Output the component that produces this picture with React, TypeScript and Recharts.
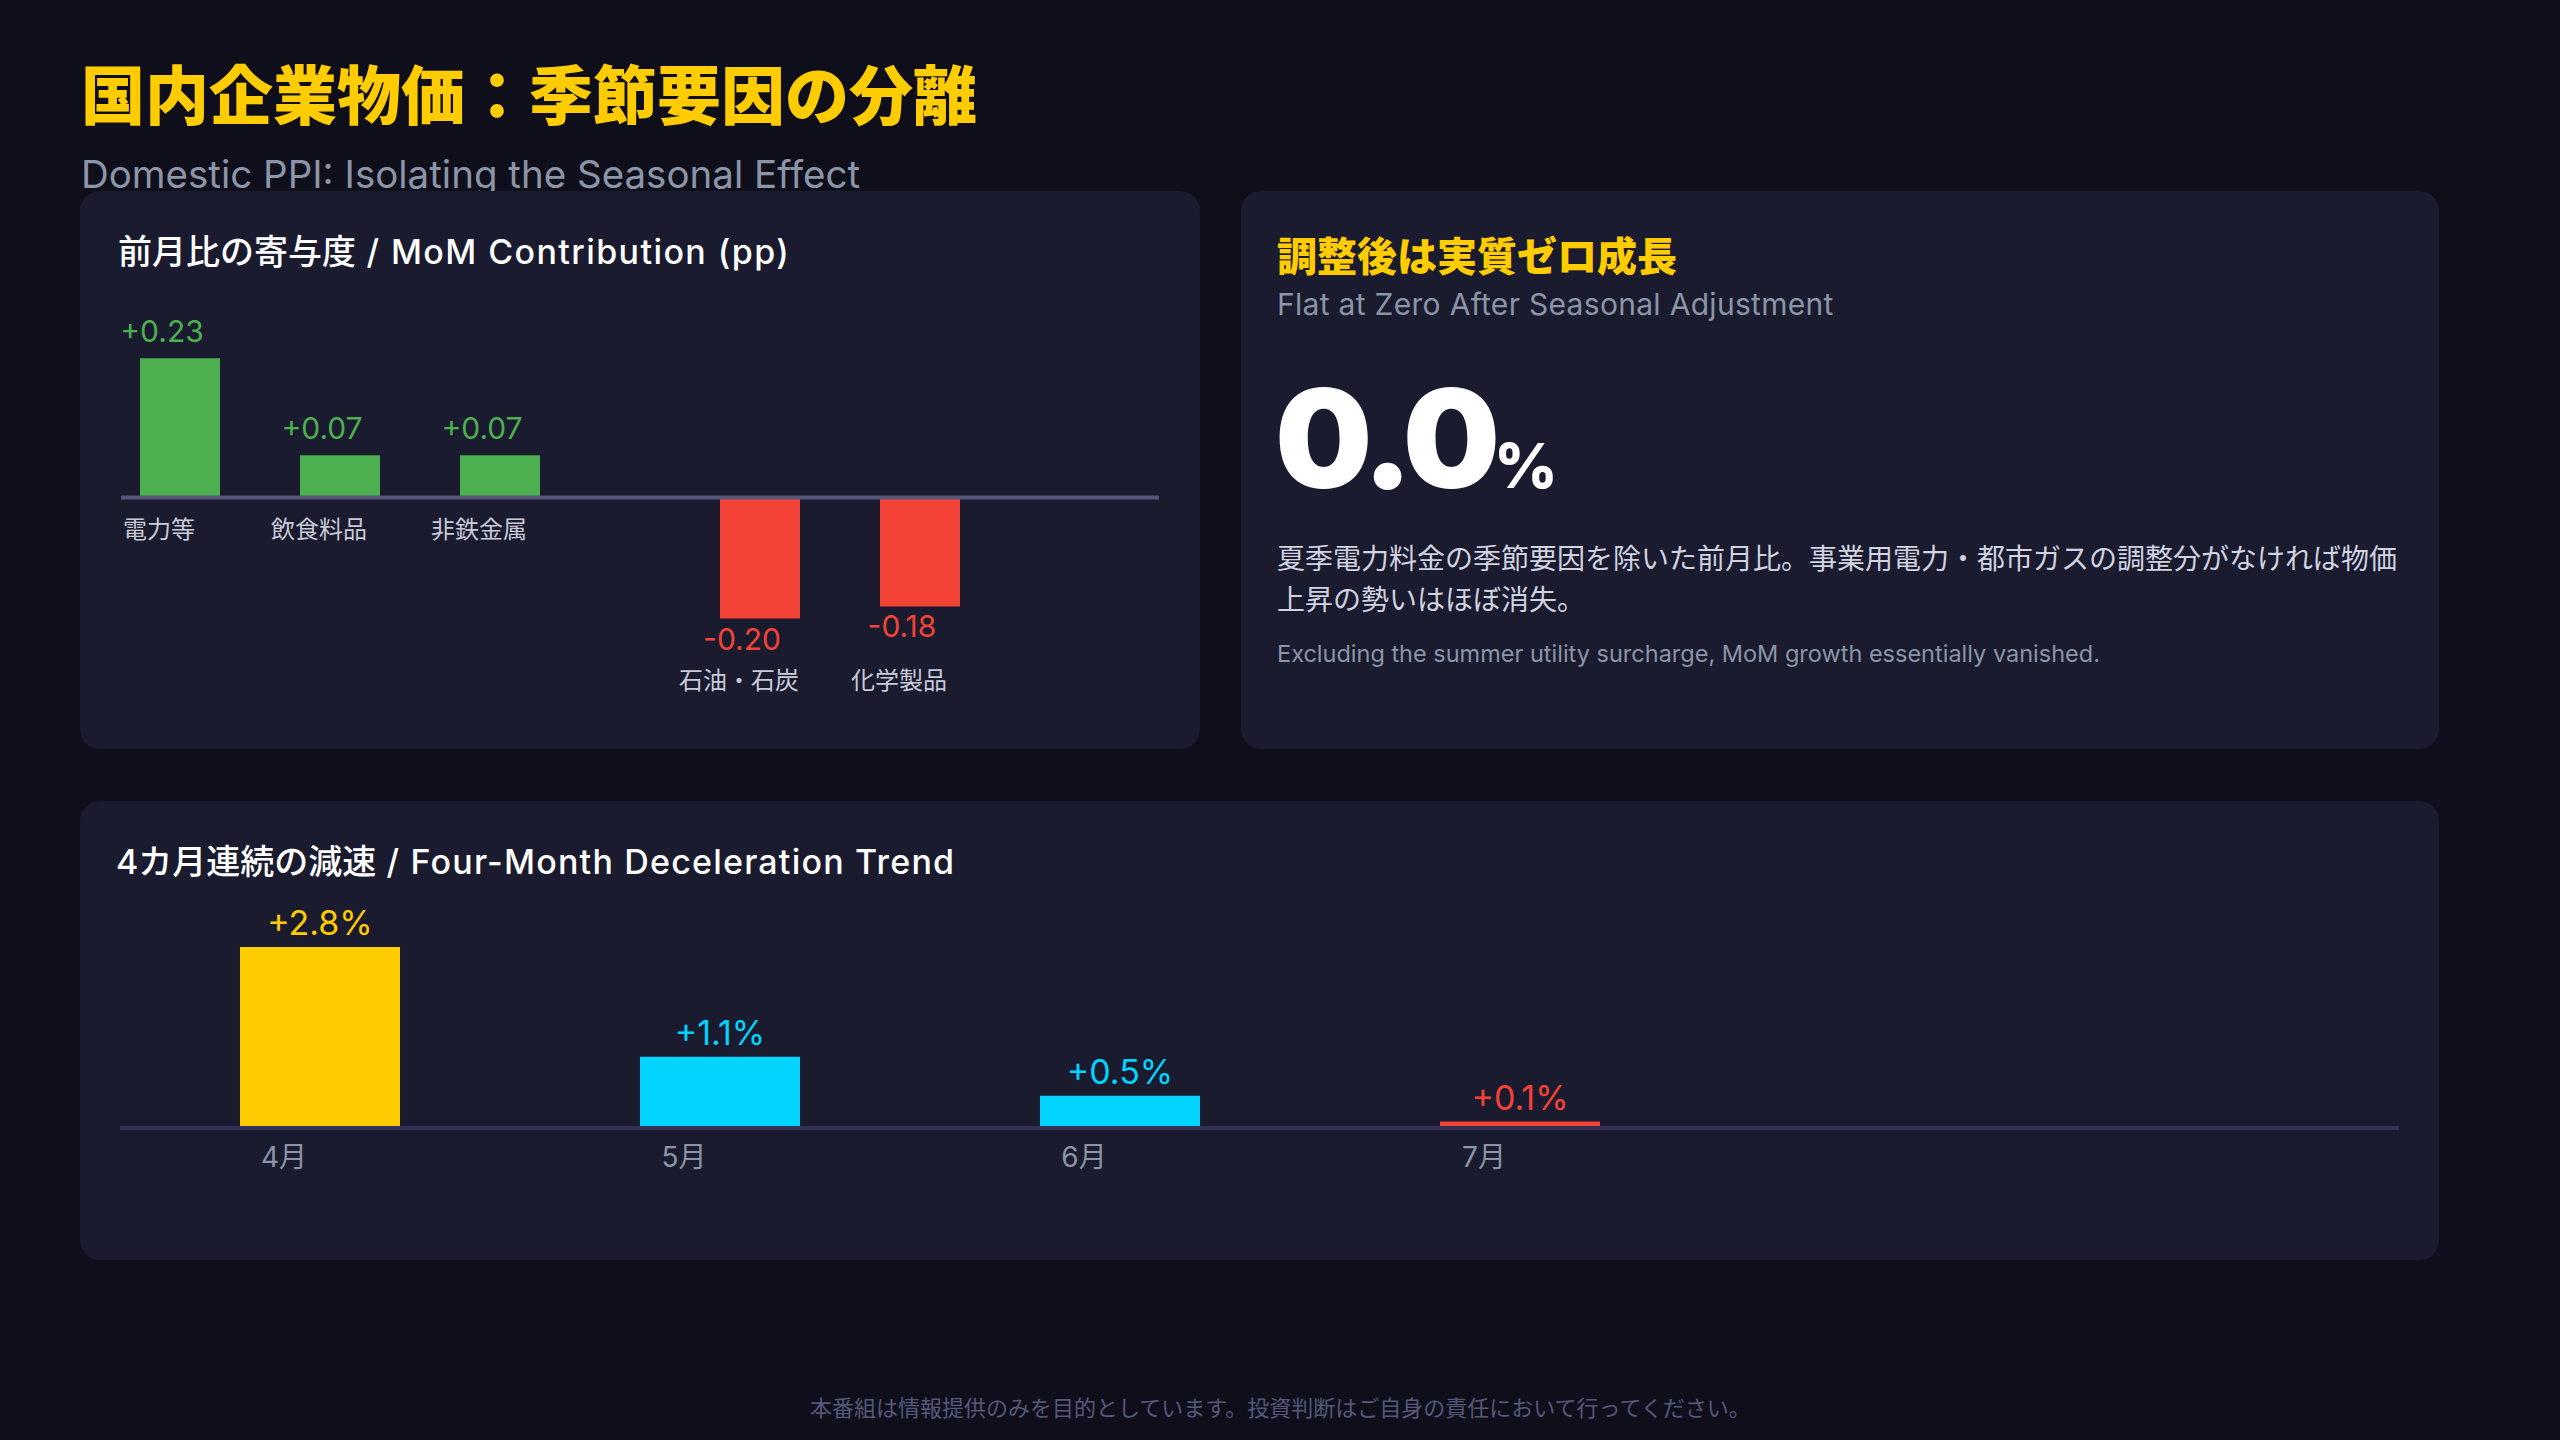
import { BarChart, Bar, XAxis, YAxis, ReferenceLine, LabelList, Cell } from "recharts";

// MoM contribution by item (pp)
const contribNames = ["電力等", "飲食料品", "非鉄金属", "石油・石炭", "化学製品"];
const contribValues = [0.23, 0.07, 0.07, -0.2, -0.18];

// YoY trend by month (%)
const months = ["4月", "5月", "6月", "7月"];
const ppiYoY = [2.8, 1.1, 0.5, 0.1];
const trendColors = ["#FFCC00", "#00D4FF", "#00D4FF", "#F44336"];

const FONT = "Inter, 'Noto Sans CJK JP', sans-serif";
const YELLOW = "#FFCC00";
const GREEN = "#4CAF50";
const RED = "#F44336";
const GRAY = "#8b95a7";
const PANEL = "#1a1b2e";

const contribData = contribNames.map((name, i) => ({
  name,
  up: contribValues[i] > 0 ? contribValues[i] : null,
  down: contribValues[i] < 0 ? contribValues[i] : null,
}));
const minNeg = Math.min(...contribValues);

const trendData = months.map((month, i) => ({ month, value: ppiYoY[i] }));

function box(props: any) {
  const vb = props.viewBox ?? props;
  const y0 = Math.min(vb.y, vb.y + vb.height);
  const y1 = Math.max(vb.y, vb.y + vb.height);
  return { x: vb.x, w: vb.width, top: y0, bottom: y1, h: Math.abs(vb.height) };
}

const fmtPp = (v: number) => (v > 0 ? "+" : "") + v.toFixed(2);

function ContribValueLabel(props: any) {
  if (props.value == null) return null;
  const v = Number(props.value);
  const b = box(props);
  const pos = v > 0;
  return (
    <text
      x={b.x + b.w / 2 - 18}
      y={pos ? b.top - 16 : b.bottom + 31}
      textAnchor="middle"
      fill={pos ? GREEN : RED}
      fontSize={30}
    >
      {fmtPp(v)}
    </text>
  );
}

const nameLabel = (side: number) => (props: any) => {
  const v = contribValues[contribNames.indexOf(props.value)];
  if (v == null || Math.sign(v) !== side) return null;
  const b = box(props);
  let y = b.bottom + 40;
  if (v < 0) {
    // align all negative labels under the deepest bar
    const perUnit = b.h / Math.abs(v);
    y = b.top + perUnit * Math.abs(minNeg) + 70;
  }
  return (
    <text x={b.x + b.w / 2 - 21} y={y} textAnchor="middle" fill="#c8cad8" fontSize={24}>
      {props.value}
    </text>
  );
};

function TrendLabel(props: any) {
  const i = months.indexOf(props.value);
  if (i < 0) return null;
  const b = box(props);
  return (
    <text x={b.x + b.w / 2} y={b.top - 12} textAnchor="middle" fill={trendColors[i]} fontSize={34}>
      {"+" + ppiYoY[i].toFixed(1) + "%"}
    </text>
  );
}

function MonthTick(props: any) {
  const { x, y, payload } = props;
  return (
    <text x={x - 36} y={y + 39} textAnchor="middle" fill={GRAY} fontSize={28}>
      {payload.value}
    </text>
  );
}

function Panel({ left, top, width, height }: { left: number; top: number; width: number; height: number }) {
  return (
    <div
      style={{ position: "absolute", left, top, width, height, background: PANEL, borderRadius: 20 }}
    />
  );
}

function Text({ left, top, size, color, weight = 400, lh, spacing, children }: any) {
  return (
    <div
      style={{
        position: "absolute",
        left,
        top,
        fontSize: size,
        color,
        fontWeight: weight,
        lineHeight: lh ? lh + "px" : 1,
        letterSpacing: spacing,
        whiteSpace: "nowrap",
      }}
    >
      {children}
    </div>
  );
}

export default function App() {
  return (
    <div
      style={{
        position: "absolute",
        left: 0,
        top: 0,
        width: 2560,
        height: 1440,
        background: "#0f0f1b",
        fontFamily: FONT,
        overflow: "hidden",
      }}
    >
      <Text left={81} top={64} size={64} color={YELLOW} weight={900}>
        国内企業物価：季節要因の分離
      </Text>
      <Text left={81} top={155} size={38.5} color={GRAY}>
        Domestic PPI: Isolating the Seasonal Effect
      </Text>

      <Panel left={80} top={191} width={1120} height={558} />
      <Panel left={1241} top={191} width={1198} height={558} />
      <Panel left={80} top={801} width={2359} height={459} />

      <Text left={118} top={235} size={34} color="#ffffff" weight={500}>
        前月比の寄与度<span style={{ letterSpacing: 1.4 }}> / MoM Contribution (pp)</span>
      </Text>

      <div style={{ position: "absolute", left: 121, top: 266 }}>
        <BarChart
          width={1038}
          height={473}
          data={contribData}
          margin={{ top: 50, right: 0, bottom: 60, left: 0 }}
        >
          <XAxis xAxisId="a" dataKey="name" hide padding={{ left: -21, right: 259 }} />
          <XAxis xAxisId="b" dataKey="name" hide padding={{ left: 79, right: 159 }} />
          <YAxis hide domain={[-0.3, 0.3]} />
          <ReferenceLine xAxisId="a" y={0} stroke="#55557a" strokeWidth={4} />
          <Bar xAxisId="a" dataKey="up" fill={GREEN} barSize={80} isAnimationActive={false}>
            <LabelList dataKey="up" content={ContribValueLabel} />
            <LabelList dataKey="name" content={nameLabel(1)} />
          </Bar>
          <Bar xAxisId="b" dataKey="down" fill={RED} barSize={80} isAnimationActive={false}>
            <LabelList dataKey="down" content={ContribValueLabel} />
            <LabelList dataKey="name" content={nameLabel(-1)} />
          </Bar>
        </BarChart>
      </div>

      <Text left={1277} top={237} size={40} color={YELLOW} weight={900}>
        調整後は実質ゼロ成長
      </Text>
      <Text left={1277} top={289} size={30} color={GRAY} spacing={0.3}>
        Flat at Zero After Seasonal Adjustment
      </Text>
      <Text left={1275} top={370} size={137} color="#ffffff" weight={900} spacing={-6}>
        0.0<span style={{ fontSize: 62, fontWeight: 800, letterSpacing: 0 }}>%</span>
      </Text>
      <Text left={1277} top={539} size={28} color="#d0d2e0" lh={41}>
        <div>夏季電力料金の季節要因を除いた前月比。事業用電力・都市ガスの調整分がなければ物価</div>
        <div>上昇の勢いはほぼ消失。</div>
      </Text>
      <Text left={1277} top={642} size={23.5} color={GRAY}>
        Excluding the summer utility surcharge, MoM growth essentially vanished.
      </Text>

      <Text left={116} top={845} size={34} color="#ffffff" weight={500}>
        4カ月連続の減速<span style={{ letterSpacing: 1.2 }}> / Four-Month Deceleration Trend</span>
      </Text>

      <div style={{ position: "absolute", left: 120, top: 884 }}>
        <BarChart
          width={2279}
          height={304}
          data={trendData}
          margin={{ top: 50, right: 0, bottom: 0, left: 0 }}
        >
          <XAxis
            dataKey="month"
            height={60}
            padding={{ left: 0, right: 679 }}
            axisLine={{ stroke: "#35335a", strokeWidth: 4 }}
            tickLine={false}
            tickSize={0}
            tickMargin={0}
            tick={MonthTick}
          />
          <YAxis hide domain={[0, 3]} />
          <Bar dataKey="value" barSize={160} isAnimationActive={false}>
            {trendData.map((d, i) => (
              <Cell key={d.month} fill={trendColors[i]} />
            ))}
            <LabelList dataKey="month" content={TrendLabel} />
          </Bar>
        </BarChart>
      </div>

      <Text left={810} top={1397} size={22} color="#55587a">
        本番組は情報提供のみを目的としています。投資判断はご自身の責任において行ってください。
      </Text>
    </div>
  );
}
